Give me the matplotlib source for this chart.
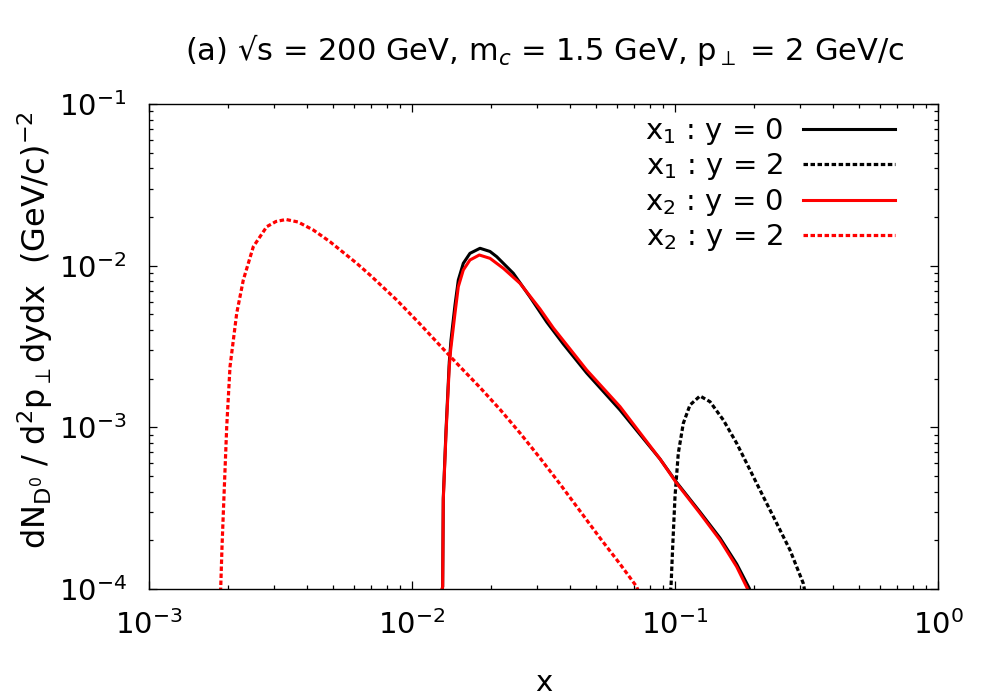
import matplotlib
matplotlib.use("Agg")
import matplotlib.pyplot as plt
from matplotlib.ticker import LogLocator, NullFormatter

plt.rcParams['font.family'] = ['DejaVu Sans']
plt.rcParams['mathtext.fontset'] = 'dejavusans'
plt.rcParams['axes.unicode_minus'] = False

# ---- data ----
# x1 : y = 0 (black solid)
x1_y0_x = [1.295e-2, 1.308e-2, 1.315e-2, 1.347e-2, 1.386e-2, 1.407e-2, 1.457e-2, 1.500e-2,
           1.567e-2, 1.661e-2, 1.814e-2, 1.980e-2, 2.100e-2, 2.428e-2, 2.810e-2, 3.252e-2,
           3.761e-2, 4.615e-2, 6.180e-2, 8.770e-2, 0.1015, 0.1245, 0.1483, 0.1716,
           0.1917, 0.1929]
x1_y0_v = [9.58e-5, 1.033e-4, 3.655e-4, 9.627e-4, 2.536e-3, 3.469e-3, 5.711e-3, 8.153e-3,
           1.034e-2, 1.192e-2, 1.281e-2, 1.224e-2, 1.136e-2, 8.970e-3, 6.399e-3, 4.483e-3,
           3.277e-3, 2.168e-3, 1.280e-3, 6.37e-4, 4.558e-4, 2.994e-4, 2.068e-4, 1.428e-4,
           1.010e-4, 9.58e-5]

# x1 : y = 2 (black dashed)
x1_y2_x = [9.596e-2, 9.656e-2, 9.800e-2, 0.1000, 0.10292, 0.10754, 0.11403, 0.12447,
           0.13588, 0.15266, 0.17164, 0.19287, 0.21665, 0.24361, 0.27363, 0.30738, 0.31202]
x1_y2_v = [9.58e-5, 1.0332e-4, 1.8266e-4, 3.724e-4, 6.909e-4, 1.0590e-3, 1.3744e-3, 1.5627e-3,
           1.4405e-3, 1.1100e-3, 7.964e-4, 5.446e-4, 3.724e-4, 2.549e-4, 1.7431e-4,
           1.0845e-4, 9.58e-5]

# x2 : y = 0 (red solid)
x2_y0_x = [1.295e-2, 1.308e-2, 1.315e-2, 1.347e-2, 1.386e-2, 1.403e-2, 1.457e-2, 1.500e-2,
           1.567e-2, 1.661e-2, 1.803e-2, 1.980e-2, 2.224e-2, 2.574e-2, 3.067e-2, 3.446e-2,
           3.988e-2, 4.615e-2, 6.180e-2, 8.770e-2, 0.1015, 0.1245, 0.1483, 0.1716,
           0.1883, 0.1895]
x2_y0_v = [9.58e-5, 1.033e-4, 3.552e-4, 9.186e-4, 2.371e-3, 3.008e-3, 5.074e-3, 7.413e-3,
           9.402e-3, 1.084e-2, 1.164e-2, 1.110e-2, 9.632e-3, 7.779e-3, 5.395e-3, 4.115e-3,
           3.052e-3, 2.262e-3, 1.342e-3, 6.37e-4, 4.506e-4, 2.939e-4, 2.010e-4, 1.374e-4,
           1.010e-4, 9.58e-5]

# x2 : y = 2 (red dashed)
x2_y2_x = [1.8670e-3, 1.8735e-3, 1.8951e-3, 1.9167e-3, 1.9747e-3, 2.0324e-3, 2.1552e-3,
           2.2834e-3, 2.4925e-3, 2.8027e-3, 3.0402e-3, 3.3189e-3, 3.6861e-3, 4.2150e-3,
           4.8771e-3, 6.1630e-3, 6.9231e-3, 8.7458e-3, 1.0725e-2, 1.2777e-2, 1.5224e-2,
           1.8139e-2, 2.1617e-2, 2.5740e-2, 3.0671e-2, 3.6534e-2, 4.3535e-2, 5.1857e-2,
           6.1786e-2, 7.1499e-2, 7.2629e-2]
x2_y2_v = [9.58e-5, 1.0143e-4, 1.8266e-4, 2.939e-4, 1.0090e-3, 2.371e-3, 5.074e-3,
           8.153e-3, 1.3103e-2, 1.7418e-2, 1.8762e-2, 1.9302e-2, 1.8628e-2, 1.6615e-2,
           1.4065e-2, 1.0342e-2, 8.7551e-3, 6.1321e-3, 4.3561e-3, 3.2071e-3, 2.371e-3,
           1.7635e-3, 1.2893e-3, 9.224e-4, 6.462e-4, 4.461e-4, 3.037e-4, 2.068e-4,
           1.428e-4, 1.0332e-4, 9.58e-5]

labels = [r'x$_1$ : y = 0', r'x$_1$ : y = 2', r'x$_2$ : y = 0', r'x$_2$ : y = 2']
xtick_vals = [1e-3, 1e-2, 1e-1, 1e0]
xtick_labels = [r'10$^{-3}$', r'10$^{-2}$', r'10$^{-1}$', r'10$^{0}$']
ytick_vals = [1e-4, 1e-3, 1e-2, 1e-1]
ytick_labels = [r'10$^{-4}$', r'10$^{-3}$', r'10$^{-2}$', r'10$^{-1}$']

fig = plt.figure(figsize=(10, 7), dpi=100)
ax = fig.add_axes([0.149, 1 - 589 / 700, 0.789, 485 / 700])

dash = (1.4, 0.8)
ax.plot(x1_y0_x, x1_y0_v, color='black', lw=2.2, label=labels[0])
ax.plot(x1_y2_x, x1_y2_v, color='black', lw=2.3, dashes=dash, label=labels[1])
ax.plot(x2_y0_x, x2_y0_v, color='red', lw=2.2, label=labels[2])
ax.plot(x2_y2_x, x2_y2_v, color='red', lw=2.3, dashes=dash, label=labels[3])

ax.set_xscale('log')
ax.set_yscale('log')
ax.set_xlim(1e-3, 1)
ax.set_ylim(1e-4, 1e-1)

ax.set_xticks(xtick_vals, xtick_labels)
ax.set_yticks(ytick_vals, ytick_labels)
ax.xaxis.set_minor_locator(LogLocator(base=10, subs=range(2, 10)))
ax.yaxis.set_minor_locator(LogLocator(base=10, subs=range(2, 10)))
ax.xaxis.set_minor_formatter(NullFormatter())
ax.yaxis.set_minor_formatter(NullFormatter())
ax.tick_params(which='both', direction='in', top=True, right=True, width=0.9, color='black')
ax.tick_params(which='major', length=6)
ax.tick_params(which='minor', length=3)
ax.tick_params(axis='x', which='major', labelsize=21, pad=15)
ax.tick_params(axis='y', which='major', labelsize=21, pad=16)
for s in ax.spines.values():
    s.set_linewidth(1.0)

ax.set_xlabel('x', fontsize=21, labelpad=21)
fig.text(0.035, 1 - 330 / 700,
         r'dN$_{\mathregular{D}^0}$ / d$^2$p$_\perp$dydx  (GeV/c)$^{-2}$',
         rotation=90, ha='center', va='center', fontsize=23)

fig.text(0.5445, 1 - 50 / 700,
         '(a) \u221as = 200 GeV, m$_c$ = 1.5 GeV, p$_\\perp$ = 2 GeV/c',
         ha='center', va='center', fontsize=22)

leg = ax.legend(loc='upper right', frameon=False, markerfirst=False, fontsize=21,
                handlelength=3.15, handletextpad=0.68, labelspacing=0.15,
                borderpad=0.0, borderaxespad=0.0, bbox_to_anchor=(0.9455, 0.975))

fig.savefig('out.png', dpi=100)
